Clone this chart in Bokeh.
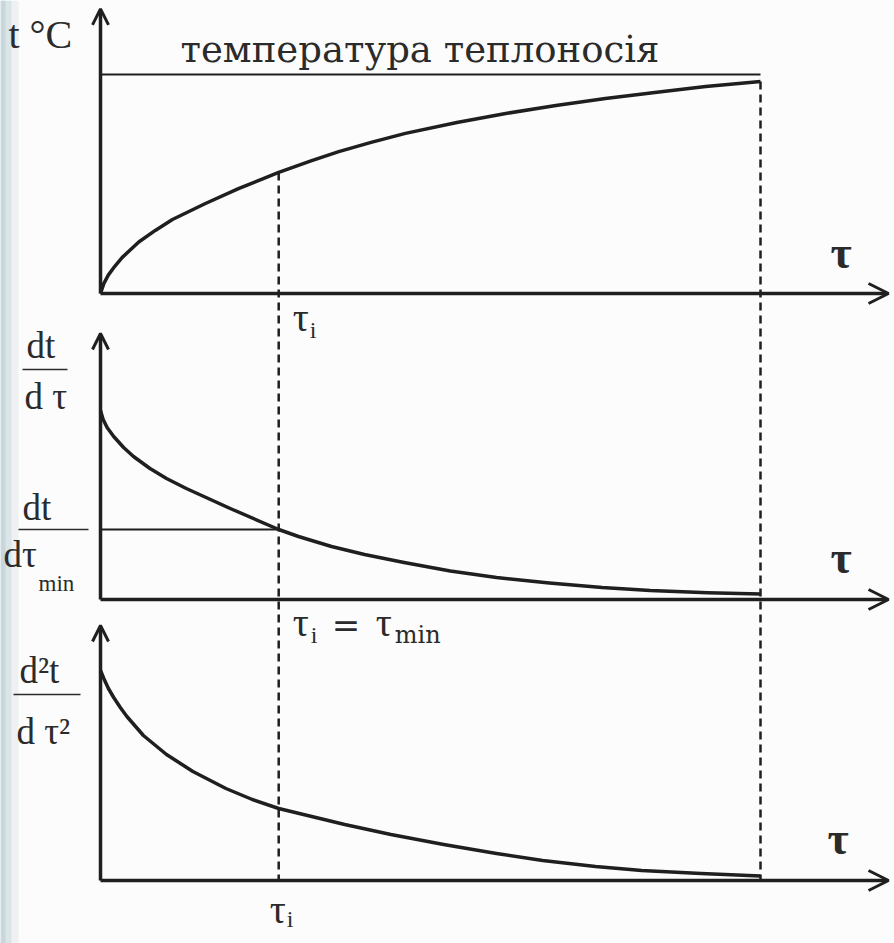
from bokeh.plotting import figure
from bokeh.models import Range1d, Arrow, OpenHead, Label, BoxAnnotation
from bokeh.embed import file_html
from bokeh.resources import INLINE

# ---------------- data (dimensionless units) ----------------
tau_i = 0.27          # moment of the minimum heating rate
tau_end = 1.0         # end of heating
t_coolant = 1.0       # coolant temperature (relative)

# temperature of the body, t / t_coolant
tau_temp = [0.0, 0.005, 0.012, 0.02, 0.033, 0.058, 0.083, 0.109, 0.159, 0.209,
            0.27, 0.32, 0.361, 0.41, 0.462, 0.54, 0.614, 0.69, 0.765, 0.84,
            0.917, 1.0]
temp = [0.0, 0.045, 0.085, 0.118, 0.165, 0.235, 0.288, 0.338, 0.411, 0.479,
        0.553, 0.607, 0.648, 0.69, 0.731, 0.781, 0.822, 0.858, 0.89, 0.918,
        0.945, 0.968]

# heating rate dt/dtau
tau_rate = [0.0, 0.004, 0.01, 0.02, 0.035, 0.05, 0.075, 0.10, 0.13, 0.16,
            0.20, 0.27, 0.30, 0.35, 0.40, 0.46, 0.53, 0.60, 0.68, 0.76,
            0.833, 0.92, 1.0]
rate = [1.89, 1.80, 1.72, 1.63, 1.52, 1.43, 1.31, 1.21, 1.11, 1.02,
        0.90, 0.70, 0.63, 0.53, 0.45, 0.37, 0.285, 0.22, 0.165, 0.12,
        0.09, 0.068, 0.055]
rate_min = 0.70

# second derivative d2t/dtau2
tau_acc = [0.0, 0.005, 0.012, 0.02, 0.03, 0.04, 0.065, 0.10, 0.14, 0.19,
           0.23, 0.27, 0.32, 0.37, 0.44, 0.52, 0.60, 0.67, 0.75, 0.82,
           0.91, 1.0]
acc = [2.10, 2.02, 1.92, 1.83, 1.73, 1.64, 1.45, 1.26, 1.09, 0.92,
       0.81, 0.72, 0.64, 0.56, 0.46, 0.36, 0.27, 0.20, 0.14, 0.10,
       0.07, 0.046]

# ---------------- layout ----------------
W, H = 894, 943
INK = "#1f1f1f"
TEXT = "#2b2b2b"
SERIF = "Liberation Serif"

X0_PX, PX_PER_TAU = 100, 660


def band(axis_px, px_per_unit):
    """Vertical range that puts value 0 at pixel row axis_px (from top)."""
    return Range1d(-(H - axis_px) / px_per_unit, axis_px / px_per_unit)


def convert(v, r_from, r_to):
    f = (v - r_from.start) / (r_from.end - r_from.start)
    return r_to.start + f * (r_to.end - r_to.start)


x_rng = Range1d(-X0_PX / PX_PER_TAU, (W - X0_PX) / PX_PER_TAU)
y_top = band(293, 219)
y_mid = band(599, 100)
y_bot = band(880, 100)

p = figure(width=W, height=H, x_range=x_rng, y_range=y_top,
           output_backend="svg", toolbar_location=None, min_border=0,
           x_axis_location=None, y_axis_location=None)
p.extra_y_ranges = {"rate": y_mid, "acc": y_bot}
p.grid.visible = False
p.outline_line_color = None
p.background_fill_color = "#fcfcfc"
p.border_fill_color = "#fcfcfc"

# scanned page edge on the left
for w_px, col in [(18, "#edf1f2"), (11, "#dbe5e7"), (5, "#c8d7db")]:
    p.add_layout(BoxAnnotation(right=x_rng.start + w_px / PX_PER_TAU,
                               fill_color=col, fill_alpha=1.0, line_color=None,
                               level="underlay"))

# ---------------- axes with arrows ----------------
tau_axis_end = 1.194
axis_tops = {"default": 1.30, "rate": 2.66, "acc": 2.55}
for name, ytop in axis_tops.items():
    p.add_layout(Arrow(x_start=0, y_start=0, x_end=tau_axis_end, y_end=0,
                       end=OpenHead(size=20, line_width=3, line_color=INK),
                       line_width=3.5, line_color=INK, y_range_name=name))
    p.add_layout(Arrow(x_start=0, y_start=0, x_end=0, y_end=ytop,
                       end=OpenHead(size=16, line_width=3, line_color=INK),
                       line_width=3.5, line_color=INK, y_range_name=name))

# ---------------- curves ----------------
p.line([0, tau_end], [t_coolant, t_coolant], line_width=2, color=INK)
p.line(tau_temp, temp, line_width=3.5, color=INK, line_join="round")

p.line([0, tau_i], [rate_min, rate_min], line_width=2, color=INK,
       y_range_name="rate")
p.line(tau_rate, rate, line_width=3.5, color=INK, line_join="round",
       y_range_name="rate")

p.line(tau_acc, acc, line_width=3.5, color=INK, line_join="round",
       y_range_name="acc")

# dashed guides from the upper curve down to the lowest axis
bottom_in_top = convert(0.0, y_bot, y_top)
p.segment(x0=[tau_i, tau_end], x1=[tau_i, tau_end],
          y0=[temp[tau_temp.index(tau_i)], temp[-1]],
          y1=[bottom_in_top, bottom_in_top],
          line_width=2.5, line_dash="8 5", color=INK)


# ---------------- labels ----------------
def lab(text, x, y, size, rng="default", dx=0, dy=0, font=SERIF, style="normal"):
    # y is the text baseline; the renderer centres the glyph box on the
    # anchor, so lift it by a third of the font size
    p.add_layout(Label(x=x, y=y, text=text, x_offset=dx,
                       y_offset=dy + round(0.33 * size),
                       text_font=font, text_font_size=f"{size}px",
                       text_font_style=style, text_color=TEXT,
                       text_baseline="alphabetic", text_align="left",
                       y_range_name=rng))


def px_x(px):
    return (px - X0_PX) / PX_PER_TAU


# upper panel
lab("t °C", px_x(8), 1.123, 40)
lab("температура теплоносія", px_x(180), 1.059, 37, font="DejaVu Serif")
lab("τ", px_x(830), 0.119, 46, style="bold")
lab("τ", tau_i, -0.169, 40, dx=14)
lab("i", tau_i, -0.169, 24, dx=31, dy=-7)

# middle panel
lab("dt", px_x(26), 2.42, 37, rng="rate")
p.line([px_x(22), px_x(67)], [2.30, 2.30], line_width=1.5, color=TEXT,
       y_range_name="rate")
lab("d τ", px_x(24), 1.91, 37, rng="rate")

lab("dt", px_x(22), rate_min, 37, rng="rate", dy=10)
p.line([px_x(18), px_x(88)], [rate_min, rate_min], line_width=1.5, color=TEXT,
       y_range_name="rate")
lab("dτ", px_x(3), rate_min, 37, rng="rate", dy=-37)
lab("min", px_x(38), rate_min, 23, rng="rate", dy=-62)

lab("τ", px_x(830), 0.27, 46, rng="rate", style="bold")
lab("τ", tau_i, -0.36, 40, rng="rate", dx=14)
lab("i", tau_i, -0.36, 24, rng="rate", dx=32, dy=-7)
lab("=", tau_i, -0.36, 34, rng="rate", dx=53, font="DejaVu Serif")
lab("τ", tau_i, -0.36, 40, rng="rate", dx=97)
lab("min", tau_i, -0.36, 24, rng="rate", dx=116, dy=-7, font="DejaVu Serif")

# lower panel
lab("d²t", px_x(19), 1.98, 37, rng="acc")
p.line([px_x(13), px_x(80)], [1.86, 1.86], line_width=1.5, color=TEXT,
       y_range_name="acc")
lab("d τ²", px_x(16), 1.37, 37, rng="acc")
lab("τ", px_x(827), 0.27, 46, rng="acc", style="bold")
lab("τ", tau_i, -0.42, 40, rng="acc", dx=-9)
lab("i", tau_i, -0.42, 24, rng="acc", dx=8, dy=-4)

open("out.html", "w").write(file_html(p, INLINE))
